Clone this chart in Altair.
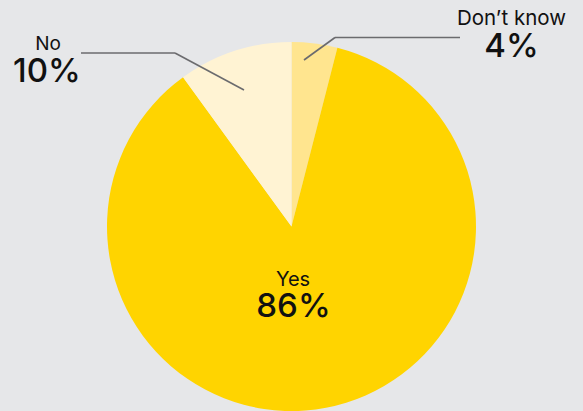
import altair as alt
import pandas as pd

categories = ["Don\u2019t know", "Yes", "No"]
values = [4, 86, 10]
labels = ["4%", "86%", "10%"]
colors = ["#FFE58F", "#FFD400", "#FFF3D3"]

df = pd.DataFrame({"cat": categories, "val": values, "order": [0, 1, 2], "lab": labels})

W, H = 583, 411
CX, CY, R = 291.5, 226.5, 184.5
FONT = "Inter"

pie = alt.Chart(df).mark_arc(radius=R, stroke=None).encode(
    theta=alt.Theta("val:Q", stack=True),
    order=alt.Order("order:Q"),
    color=alt.Color("cat:N", scale=alt.Scale(domain=categories, range=colors), legend=None),
    x=alt.value(CX), y=alt.value(CY),
)

def txt(t, x, y, size, weight):
    return alt.Chart(pd.DataFrame({"t": [t]})).mark_text(
        font=FONT, fontSize=size, fontWeight=weight, color="#111111",
        align="center", baseline="alphabetic"
    ).encode(text="t:N", x=alt.value(x), y=alt.value(y))

def seg(x1, y1, x2, y2):
    return alt.Chart(pd.DataFrame({"a": [0]})).mark_rule(
        color="#6b6b6e", strokeWidth=1.6
    ).encode(x=alt.value(x1), y=alt.value(y1), x2=alt.value(x2), y2=alt.value(y2))

layers = [
    pie,
    seg(81, 53, 175, 53), seg(175, 53, 244, 90),
    seg(460, 37.5, 335, 37.5), seg(335, 37.5, 304, 60),
    txt(categories[2], 48, 50, 19, 400), txt(labels[2], 47, 82, 33, 500),
    txt(categories[0], 511.5, 25, 20.5, 400), txt(labels[0], 511.5, 57, 33, 500),
    txt(categories[1], 293, 286, 20, 400), txt(labels[1], 293.5, 317, 33, 500),
]

chart = alt.layer(*layers).properties(
    width=W, height=H, padding=0, autosize=alt.AutoSizeParams(type="none"),
    background="#E6E7E9",
).configure_view(stroke=None)

chart.save("out.html", embed_options={"renderer": "svg", "actions": False})
